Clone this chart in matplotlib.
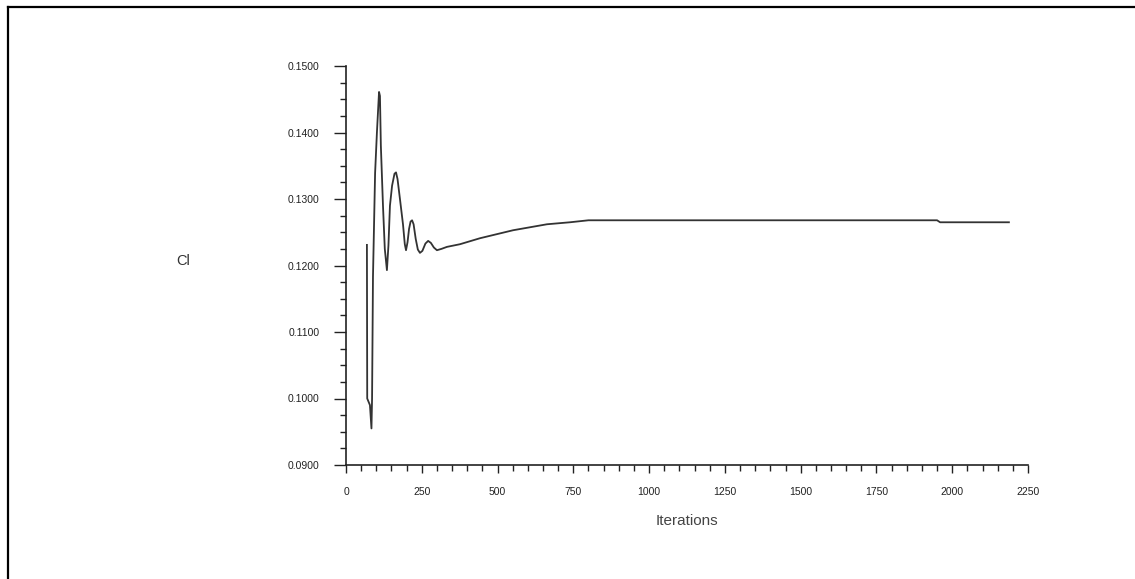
import numpy as np
import matplotlib
matplotlib.use("Agg")
import matplotlib.pyplot as plt
from matplotlib.ticker import MultipleLocator, FormatStrFormatter
from matplotlib.lines import Line2D

plt.rcParams['font.family'] = ['Liberation Sans', 'DejaVu Sans']

# lift coefficient history
iterations = [69, 70, 79, 84, 86, 89, 96, 102, 109, 112, 115, 122, 128, 135,
              140, 145, 152, 160, 165, 170, 178, 188, 194, 198, 203, 208, 213,
              218, 223, 230, 237, 244, 252, 262, 271, 280, 290, 300, 315,
              333, 376, 442, 551, 663, 739, 800, 1000, 1500, 1950, 1960, 2187]
cl = [0.1231, 0.1000, 0.0990, 0.0955, 0.1000, 0.1183, 0.1339, 0.1400, 0.1461,
      0.1455, 0.1380, 0.1290, 0.1225, 0.1193,
      0.1230, 0.1290, 0.1320, 0.1338, 0.1340, 0.1330, 0.1300, 0.1262, 0.1232,
      0.1223, 0.1235, 0.1255, 0.1266,
      0.1268, 0.1262, 0.1240, 0.1224, 0.1219, 0.1222, 0.1233, 0.1237, 0.1234,
      0.1227, 0.1223, 0.1225,
      0.1228, 0.1232, 0.1241, 0.1253, 0.1262, 0.1265, 0.1268, 0.1268, 0.1268,
      0.1268, 0.1265, 0.1265]

x_ticks = np.arange(0, 2251, 250)
y_ticks = np.arange(0.09, 0.1501, 0.01)

fig = plt.figure(figsize=(11.35, 5.79), dpi=100)
fig.patch.set_facecolor('white')

# frame lines on the left and top of the picture
fig.add_artist(Line2D([8 / 1135, 8 / 1135], [0, 1 - 7 / 579], color='black', lw=1.6,
                      transform=fig.transFigure))
fig.add_artist(Line2D([8 / 1135, 1], [1 - 7 / 579, 1 - 7 / 579], color='black', lw=1.6,
                      transform=fig.transFigure))

ax = fig.add_axes([346 / 1135, 1 - 465 / 579, 682 / 1135, 399 / 579])
ax.plot(iterations, cl, color='#333333', lw=1.3)

ax.set_xlim(0, 2250)
ax.set_ylim(0.09, 0.15)
ax.set_xticks(x_ticks)
ax.set_yticks(y_ticks)
ax.xaxis.set_minor_locator(MultipleLocator(50))
ax.yaxis.set_minor_locator(MultipleLocator(0.0025))
ax.yaxis.set_major_formatter(FormatStrFormatter('%.4f'))

for s in ['top', 'right']:
    ax.spines[s].set_visible(False)
for s in ['left', 'bottom']:
    ax.spines[s].set_linewidth(1.2)
    ax.spines[s].set_color('#222222')

ax.tick_params(axis='y', which='major', length=9, width=1)
ax.tick_params(axis='x', which='major', length=6, width=1)
ax.tick_params(axis='both', which='major', labelsize=7.5, colors='#222222', pad=10)
ax.tick_params(axis='both', which='minor', length=4, width=1, colors='#222222')

ax.set_xlabel('Iterations', fontsize=11, color='#444444', labelpad=12)
ax.set_ylabel('Cl', fontsize=10.5, color='#333333', rotation=0)
ax.yaxis.set_label_coords(-0.239, 0.494)

fig.savefig('out.png', dpi=100, facecolor='white')
